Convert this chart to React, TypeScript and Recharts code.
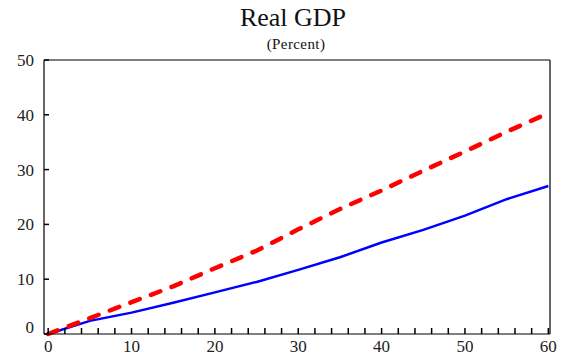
import React from 'react';
import { LineChart, Line, XAxis, YAxis, ReferenceLine } from 'recharts';

// quarters since start
const quarters = [0, 5, 10, 15, 20, 25, 30, 35, 40, 45, 50, 55, 60];
// solid blue line
const baseline = [0, 2.4, 3.9, 5.7, 7.6, 9.5, 11.7, 14.0, 16.7, 19.0, 21.6, 24.6, 27.0];
// dashed red line
const scenario = [0, 2.9, 5.8, 8.7, 12.0, 15.2, 19.1, 22.8, 26.2, 29.8, 33.3, 36.9, 40.3];

const xTicks = Array.from({ length: 31 }, (_, i) => i * 2);
const yTicks = [0, 10, 20, 30, 40, 50];

const data = quarters.map((q, i) => ({ q, baseline: baseline[i], scenario: scenario[i] }));

const FONT = 'Liberation Serif, serif';
const AXIS = '#000';

// inward tick mark plus label, drawn by hand
const renderXTick = (props: any) => {
  const { x, y, payload } = props;
  return (
    <g key={'x' + payload.value}>
      <line x1={x} y1={y} x2={x} y2={y - 6} stroke={AXIS} strokeWidth={1.5} />
      {payload.value % 10 === 0 && (
        <text x={x} y={y + 18} textAnchor="middle" style={{ fontFamily: FONT, fontSize: 17 }} fill="#222">
          {payload.value}
        </text>
      )}
    </g>
  );
};

const makeYTick = (left: boolean) => (props: any) => {
  const { x, y, payload } = props;
  return (
    <g key={(left ? 'l' : 'r') + payload.value}>
      <line x1={x} y1={y} x2={left ? x + 5 : x - 5} y2={y} stroke={AXIS} strokeWidth={1.5} />
      <text
        x={left ? x - 10 : x + 8}
        y={y + 6 - (payload.value === 0 ? 7 : 0)}
        textAnchor={left ? 'end' : 'start'}
        style={{ fontFamily: FONT, fontSize: 17 }}
        fill="#222"
      >
        {payload.value}
      </text>
    </g>
  );
};

export default function App() {
  return (
    <div style={{ position: 'absolute', left: 0, top: 0, width: 582, height: 358, background: '#fff' }}>
      <div
        style={{
          position: 'absolute', left: 0, width: 586, top: 3, textAlign: 'center',
          fontFamily: FONT, fontSize: 26, lineHeight: '30px', color: '#111',
        }}
      >
        Real GDP
      </div>
      <div
        style={{
          position: 'absolute', left: 0, width: 592, top: 35, textAlign: 'center',
          fontFamily: FONT, fontSize: 15, letterSpacing: 0.4, lineHeight: '18px', color: '#111',
        }}
      >
        (Percent)
      </div>
      <LineChart width={582} height={358} data={data} margin={{ top: 60, right: 0, bottom: 0, left: 0 }}>
        <XAxis
          dataKey="q"
          type="number"
          domain={[-0.5, 60.2]}
          ticks={xTicks}
          interval={0}
          height={24}
          tickSize={0}
          tickMargin={0}
          tickLine={false}
          tick={renderXTick}
          axisLine={{ stroke: AXIS, strokeWidth: 1.2 }}
          allowDataOverflow
        />
        <YAxis
          yAxisId="l"
          orientation="left"
          domain={[0, 50]}
          ticks={yTicks}
          width={44}
          tickSize={0}
          tickMargin={0}
          tickLine={false}
          tick={makeYTick(true)}
          axisLine={{ stroke: AXIS, strokeWidth: 1.2 }}
        />
        <YAxis
          yAxisId="r"
          orientation="right"
          domain={[0, 50]}
          ticks={yTicks}
          width={32}
          tickSize={0}
          tickMargin={0}
          tickLine={false}
          tick={makeYTick(false)}
          axisLine={{ stroke: AXIS, strokeWidth: 1.2 }}
        />
        <ReferenceLine yAxisId="l" y={50} stroke={AXIS} strokeWidth={1.2} />
        <Line
          yAxisId="l"
          dataKey="baseline"
          stroke="#0000ff"
          strokeWidth={2.5}
          dot={false}
          type="linear"
          isAnimationActive={false}
        />
        <Line
          yAxisId="l"
          dataKey="scenario"
          stroke="#ff0000"
          strokeWidth={4.5}
          strokeDasharray="10 12"
          strokeLinecap="round"
          dot={false}
          type="linear"
          isAnimationActive={false}
        />
      </LineChart>
    </div>
  );
}
